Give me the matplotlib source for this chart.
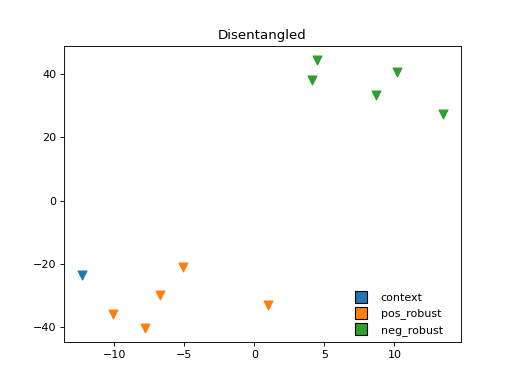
import matplotlib
matplotlib.use("Agg")
import matplotlib.pyplot as plt
from matplotlib.lines import Line2D

context_x = [-12.3]
context_y = [-23.6]
pos_x = [-5.1, -6.7, -10.1, -7.8, 0.95]
pos_y = [-20.9, -29.8, -35.8, -40.3, -33.0]
neg_x = [4.5, 4.1, 10.16, 8.7, 13.45]
neg_y = [44.6, 38.2, 40.8, 33.4, 27.5]
labels = ["context", "pos_robust", "neg_robust"]
colors = ["#1f77b4", "#ff7f0e", "#2ca02c"]

fig, ax = plt.subplots(figsize=(6.4, 4.8), dpi=80)
for xs, ys, c in zip([context_x, pos_x, neg_x], [context_y, pos_y, neg_y], colors):
    ax.scatter(xs, ys, marker="v", color=c, s=64)
ax.set_title("Disentangled")
handles = [Line2D([], [], marker="s", linestyle="none", markerfacecolor=c,
                  markeredgecolor="k", markersize=10) for c in colors]
ax.legend(handles, labels, loc="lower right", frameon=False,
          bbox_to_anchor=(1 - 8 / 396.8, -4 / 295.7))
fig.savefig("out.png", dpi=80)
